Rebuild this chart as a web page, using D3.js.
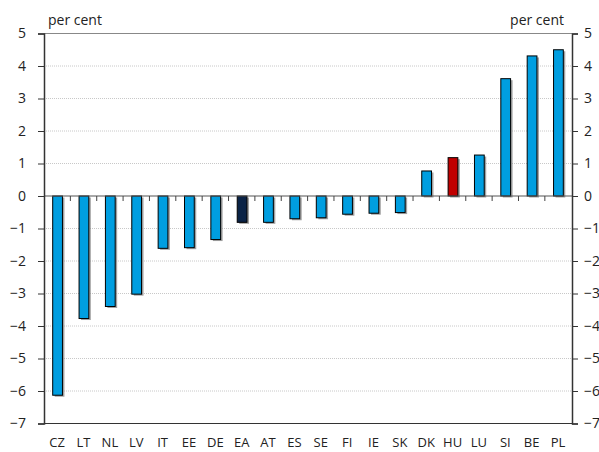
<!DOCTYPE html>
<html>
<head>
<meta charset="utf-8">
<script src="https://cdn.jsdelivr.net/npm/d3@7"></script>
<style>
  body { margin: 0; background: #fff; }
  text { font-family: "Open Sans", "Noto Sans", sans-serif; fill: #222; }
</style>
</head>
<body>
<div id="chart"></div>
<script>
// data
var countries = ['CZ','LT','NL','LV','IT','EE','DE','EA','AT','ES','SE','FI','IE','SK','DK','HU','LU','SI','BE','PL'];
var values = [-6.13,-3.77,-3.40,-3.02,-1.61,-1.59,-1.34,-0.81,-0.81,-0.70,-0.67,-0.56,-0.53,-0.51,0.77,1.18,1.26,3.61,4.31,4.50];
var yTicks = [5,4,3,2,1,0,-1,-2,-3,-4,-5,-6,-7];
var unitLabel = 'per cent';

const dims = { width: 599, height: 452, left: 44, right: 572, top: 33.5, bottom: 423.5 };

const svg = d3.select('#chart').append('svg')
  .attr('width', dims.width)
  .attr('height', dims.height);

const x = d3.scaleBand()
  .domain(countries)
  .range([dims.left, dims.right])
  .paddingInner(0.63)
  .paddingOuter(0.33);

const y = d3.scaleLinear()
  .domain([-7, 5])
  .range([dims.bottom, dims.top]);

// gridlines (dotted)
svg.append('g')
  .selectAll('line')
  .data(yTicks.filter(d => d !== 5 && d !== -7 && d !== 0))
  .enter().append('line')
    .attr('x1', dims.left).attr('x2', dims.right)
    .attr('y1', d => y(d)).attr('y2', d => y(d))
    .attr('stroke', '#c8c8c8')
    .attr('stroke-width', 1)
    .attr('stroke-dasharray', '1,1');

// top frame line
svg.append('line')
  .attr('x1', dims.left).attr('x2', dims.right)
  .attr('y1', y(5)).attr('y2', y(5))
  .attr('stroke', '#888').attr('stroke-width', 1.2);

// bars: shadow first, then the bar
const barColor = function(c) {
  if (c === 'EA') return '#0b2346';
  if (c === 'HU') return '#c00000';
  return '#009ee0';
};

const bars = svg.append('g').selectAll('g')
  .data(countries.map((c, i) => ({ c: c, v: values[i] })))
  .enter().append('g');

bars.append('rect')
  .attr('x', d => x(d.c) + 2)
  .attr('y', d => Math.min(y(d.v), y(0)) + 1.5)
  .attr('width', x.bandwidth())
  .attr('height', d => Math.abs(y(d.v) - y(0)))
  .attr('fill', '#8a8a8a')
  .attr('opacity', 0.8);

bars.append('rect')
  .attr('x', d => x(d.c))
  .attr('y', d => Math.min(y(d.v), y(0)))
  .attr('width', x.bandwidth())
  .attr('height', d => Math.abs(y(d.v) - y(0)))
  .attr('fill', d => barColor(d.c))
  .attr('stroke', '#000')
  .attr('stroke-width', 1);

// zero line with category ticks
svg.append('line')
  .attr('x1', dims.left).attr('x2', dims.right)
  .attr('y1', y(0)).attr('y2', y(0))
  .attr('stroke', '#555').attr('stroke-width', 1.2);

const step = x.step();
svg.append('g').selectAll('line')
  .data(countries.slice(1))
  .enter().append('line')
    .attr('x1', (d, i) => dims.left + step * (i + 1))
    .attr('x2', (d, i) => dims.left + step * (i + 1))
    .attr('y1', y(0)).attr('y2', y(0) + 5)
    .attr('stroke', '#444').attr('stroke-width', 1);

// bottom frame line
svg.append('line')
  .attr('x1', dims.left).attr('x2', dims.right)
  .attr('y1', y(-7)).attr('y2', y(-7))
  .attr('stroke', '#333').attr('stroke-width', 1.2);

// left and right axes
const leftAxis = d3.axisLeft(y).tickValues(yTicks).tickSize(6).tickPadding(12).tickFormat(d3.format('d'));
const rightAxis = d3.axisRight(y).tickValues(yTicks).tickSize(6).tickPadding(6).tickFormat(d3.format('d'));

const gl = svg.append('g').attr('transform', `translate(${dims.left},0)`).call(leftAxis);
const gr = svg.append('g').attr('transform', `translate(${dims.right},0)`).call(rightAxis);

[gl, gr].forEach(function(g) {
  g.select('.domain').attr('stroke', '#333').attr('stroke-width', 1.5);
  g.selectAll('.tick line').attr('stroke', '#333');
  g.selectAll('.tick text')
    .attr('fill', '#222')
    .style('font-size', '14px')
    .style('font-family', '"Open Sans", "Noto Sans", sans-serif');
});

// category labels
svg.append('g').selectAll('text')
  .data(countries)
  .enter().append('text')
    .attr('x', d => dims.left + step * (countries.indexOf(d) + 0.5))
    .attr('y', 447)
    .attr('text-anchor', 'middle')
    .style('font-size', '13px')
    .text(d => d);

// unit labels
svg.append('text')
  .attr('x', 48).attr('y', 25)
  .style('font-size', '14px')
  .text(unitLabel);

svg.append('text')
  .attr('x', 564).attr('y', 25)
  .attr('text-anchor', 'end')
  .style('font-size', '14px')
  .text(unitLabel);
</script>
</body>
</html>
